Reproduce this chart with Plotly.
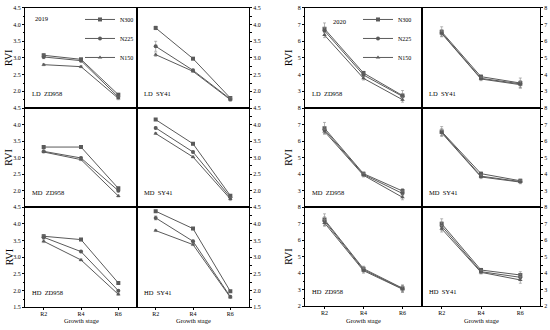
import plotly.graph_objects as go

stages = ["R2", "R4", "R6"]
series = ["N300", "N225", "N150"]
symbols = {"N300": "square", "N225": "circle", "N150": "triangle-up"}
titles = ["LD  ZD958", "LD  SY41", "MD  ZD958", "MD  SY41", "HD  ZD958", "HD  SY41"]

# 2019 values (RVI) per subplot, keyed by nitrogen level
y2019_ld_zd958 = {"N300": [3.08, 2.96, 1.90], "N225": [3.03, 2.92, 1.83], "N150": [2.80, 2.74, 1.79]}
y2019_ld_sy41 = {"N300": [3.90, 2.98, 1.80], "N225": [3.35, 2.63, 1.77], "N150": [3.10, 2.60, 1.75]}
y2019_md_zd958 = {"N300": [3.32, 3.32, 2.07], "N225": [3.19, 2.99, 2.00], "N150": [3.17, 2.94, 1.84]}
y2019_md_sy41 = {"N300": [4.15, 3.42, 1.85], "N225": [3.90, 3.17, 1.80], "N150": [3.73, 3.02, 1.75]}
y2019_hd_zd958 = {"N300": [3.63, 3.53, 2.23], "N225": [3.60, 3.17, 2.00], "N150": [3.48, 2.92, 1.89]}
y2019_hd_sy41 = {"N300": [4.38, 3.86, 1.98], "N225": [4.18, 3.48, 1.82], "N150": [3.80, 3.38, 1.80]}

e2019_ld_zd958 = {"N300": [0.05, 0.03, 0.04], "N225": [0.05, 0.03, 0.04], "N150": [0.03, 0.03, 0.04]}
e2019_ld_sy41 = {"N300": [0.05, 0.03, 0.03], "N225": [0.15, 0.03, 0.04], "N150": [0.05, 0.03, 0.05]}
e2019_md_zd958 = {"N300": [0.02, 0.02, 0.03], "N225": [0.03, 0.03, 0.03], "N150": [0.03, 0.03, 0.03]}
e2019_md_sy41 = {"N300": [0.02, 0.03, 0.03], "N225": [0.03, 0.03, 0.03], "N150": [0.03, 0.03, 0.05]}
e2019_hd_zd958 = {"N300": [0.05, 0.03, 0.03], "N225": [0.05, 0.03, 0.03], "N150": [0.04, 0.03, 0.03]}
e2019_hd_sy41 = {"N300": [0.03, 0.03, 0.03], "N225": [0.06, 0.03, 0.03], "N150": [0.03, 0.03, 0.03]}

# 2020 values (RVI)
y2020_ld_zd958 = {"N300": [6.75, 4.10, 2.75], "N225": [6.63, 3.98, 2.70], "N150": [6.37, 3.78, 2.50]}
y2020_ld_sy41 = {"N300": [6.57, 3.88, 3.50], "N225": [6.50, 3.78, 3.45], "N150": [6.47, 3.74, 3.40]}
y2020_md_zd958 = {"N300": [6.78, 4.03, 2.98], "N225": [6.68, 3.98, 2.83], "N150": [6.58, 3.93, 2.60]}
y2020_md_sy41 = {"N300": [6.58, 4.03, 3.60], "N225": [6.55, 3.88, 3.55], "N150": [6.50, 3.83, 3.52]}
y2020_hd_zd958 = {"N300": [7.25, 4.28, 3.10], "N225": [7.17, 4.22, 3.07], "N150": [7.05, 4.16, 3.04]}
y2020_hd_sy41 = {"N300": [7.00, 4.20, 3.90], "N225": [6.86, 4.10, 3.76], "N150": [6.70, 4.06, 3.60]}

e2020_ld_zd958 = {"N300": [0.35, 0.10, 0.30], "N225": [0.20, 0.10, 0.15], "N150": [0.15, 0.10, 0.15]}
e2020_ld_sy41 = {"N300": [0.30, 0.10, 0.30], "N225": [0.20, 0.10, 0.20], "N150": [0.15, 0.10, 0.20]}
e2020_md_zd958 = {"N300": [0.35, 0.10, 0.15], "N225": [0.20, 0.10, 0.15], "N150": [0.15, 0.10, 0.15]}
e2020_md_sy41 = {"N300": [0.30, 0.10, 0.10], "N225": [0.20, 0.10, 0.10], "N150": [0.15, 0.10, 0.10]}
e2020_hd_zd958 = {"N300": [0.35, 0.15, 0.20], "N225": [0.25, 0.15, 0.20], "N150": [0.20, 0.15, 0.20]}
e2020_hd_sy41 = {"N300": [0.30, 0.10, 0.20], "N225": [0.25, 0.10, 0.20], "N150": [0.20, 0.10, 0.20]}

panel_2019 = [y2019_ld_zd958, y2019_ld_sy41, y2019_md_zd958, y2019_md_sy41, y2019_hd_zd958, y2019_hd_sy41]
err_2019 = [e2019_ld_zd958, e2019_ld_sy41, e2019_md_zd958, e2019_md_sy41, e2019_hd_zd958, e2019_hd_sy41]
panel_2020 = [y2020_ld_zd958, y2020_ld_sy41, y2020_md_zd958, y2020_md_sy41, y2020_hd_zd958, y2020_hd_sy41]
err_2020 = [e2020_ld_zd958, e2020_ld_sy41, e2020_md_zd958, e2020_md_sy41, e2020_hd_zd958, e2020_hd_sy41]

W, H = 550, 330
FONT = "Liberation Serif"
LINE = "#5a5a5a"

panels = [
    dict(year="2019", data=panel_2019, err=err_2019, xpx=[25, 137, 249], ypx=[5, 107, 208, 310],
         yr=[1.5, 4.5], dtick=0.5, tfmt=".1f", legend="legend", yearpx=(41, 16)),
    dict(year="2020", data=panel_2020, err=err_2020, xpx=[305, 422, 540], ypx=[5, 107, 208, 309],
         yr=[2, 8], dtick=1, tfmt="d", legend="legend2", yearpx=(339, 19)),
]

fig = go.Figure()
layout = {}
annotations = []
k = 0
for p in panels:
    for i in range(6):
        k += 1
        r, c = divmod(i, 2)
        x0, x1 = p["xpx"][c] / W, p["xpx"][c + 1] / W
        y1, y0 = 1 - p["ypx"][r] / H, 1 - p["ypx"][r + 1] / H
        xa = "x" if k == 1 else f"x{k}"
        ya = "y" if k == 1 else f"y{k}"
        for s in series:
            fig.add_trace(go.Scatter(
                x=stages, y=p["data"][i][s], xaxis=xa, yaxis=ya, name=s,
                mode="lines+markers",
                line=dict(color=LINE, width=1),
                marker=dict(symbol=symbols[s], size=4, color=LINE),
                error_y=dict(type="data", array=p["err"][i][s], color="#888", thickness=0.6, width=1.5),
                legend=p["legend"], showlegend=(i == 0),
            ))
        bottom = r == 2
        layout["xaxis" if k == 1 else f"xaxis{k}"] = dict(
            domain=[x0, x1], anchor=ya, type="category", range=[-0.5, 2.5],
            showline=True, mirror=True, linecolor="black", linewidth=1,
            showgrid=False, zeroline=False, fixedrange=True,
            ticks="outside" if bottom else "", ticklen=2, tickcolor="black",
            ticklabelstandoff=-2,
            showticklabels=bottom, tickfont=dict(family=FONT, size=6, color="black"),
        )
        lo, hi = p["yr"]
        tv = []
        v = lo if bottom else lo + p["dtick"]
        while v <= hi + 1e-9:
            tv.append(round(v, 2))
            v += p["dtick"]
        layout["yaxis" if k == 1 else f"yaxis{k}"] = dict(
            domain=[y0, y1], anchor=xa, range=p["yr"], side="left" if c == 0 else "right",
            showline=True, mirror=True, linecolor="black", linewidth=1,
            showgrid=False, zeroline=False, fixedrange=True,
            tickvals=tv, tickformat=p["tfmt"], ticks="outside", ticklen=2, tickcolor="black",
            minor=dict(ticks="outside", ticklen=1.5, tickcolor="black", dtick=p["dtick"] / 2),
            tickfont=dict(family=FONT, size=6, color="black"),
        )
        # panel label
        annotations.append(dict(
            text=titles[i], xref="paper", yref="paper",
            x=x0 + 5 / W, y=y0 + 15 / H, xanchor="left", yanchor="middle",
            showarrow=False, font=dict(family=FONT, size=6.5, color="black")))
        if c == 0:
            annotations.append(dict(
                text="RVI", xref="paper", yref="paper", textangle=-90,
                x=x0 - 16 / W, y=(y0 + y1) / 2, xanchor="center", yanchor="middle",
                showarrow=False, font=dict(family=FONT, size=10, color="black")))
        if bottom:
            annotations.append(dict(
                text="Growth stage", xref="paper", yref="paper",
                x=(x0 + x1) / 2, y=1 - 323 / H, xanchor="center", yanchor="middle",
                showarrow=False, font=dict(family=FONT, size=6.5, color="black")))
    annotations.append(dict(
        text=p["year"], xref="paper", yref="paper",
        x=p["yearpx"][0] / W, y=1 - p["yearpx"][1] / H, xanchor="center", yanchor="middle",
        showarrow=False, font=dict(family=FONT, size=6.5, color="black")))

leg_common = dict(xanchor="left", yanchor="top", bgcolor="rgba(0,0,0,0)",
                  font=dict(family=FONT, size=6, color="black"), itemwidth=30,
                  tracegroupgap=0)
layout["legend"] = dict(x=80 / W, y=1 - 2 / H, **leg_common)
layout["legend2"] = dict(x=358 / W, y=1 - 2 / H, **leg_common)

fig.update_layout(
    width=W, height=H, margin=dict(l=0, r=0, t=0, b=0),
    paper_bgcolor="white", plot_bgcolor="white",
    annotations=annotations, **layout,
)
fig.write_html("out.html", config={"displayModeBar": False},
               post_script="document.body.style.margin='0px';")
